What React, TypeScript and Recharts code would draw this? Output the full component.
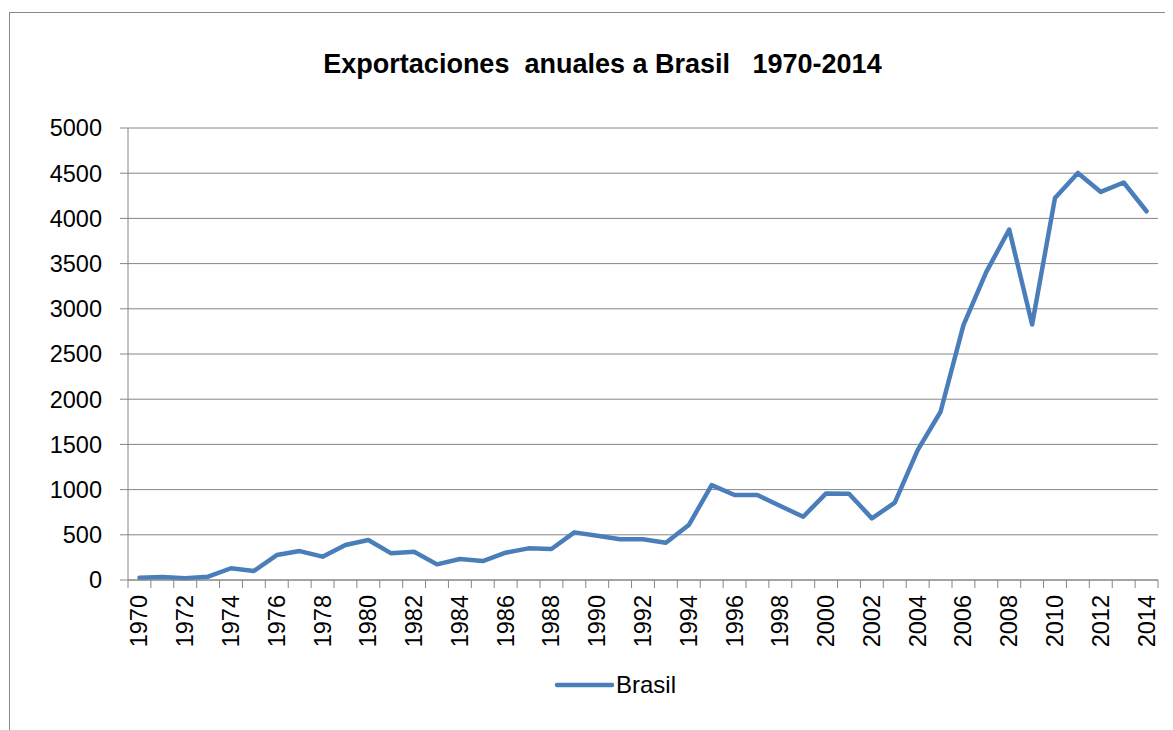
import React from "react";
import { LineChart, Line, XAxis, YAxis, CartesianGrid, Legend } from "recharts";

const years: string[] = [
  "1970", "1971", "1972", "1973", "1974", "1975", "1976", "1977", "1978", "1979",
  "1980", "1981", "1982", "1983", "1984", "1985", "1986", "1987", "1988", "1989",
  "1990", "1991", "1992", "1993", "1994", "1995", "1996", "1997", "1998", "1999",
  "2000", "2001", "2002", "2003", "2004", "2005", "2006", "2007", "2008", "2009",
  "2010", "2011", "2012", "2013", "2014",
];

const brasil: number[] = [
  25, 33, 20, 37, 130, 100, 276, 320, 258, 387,
  442, 295, 313, 173, 232, 210, 302, 350, 343, 527,
  490, 450, 450, 413, 608, 1050, 940, 940, 818, 700,
  958, 955, 682, 855, 1437, 1861, 2819, 3408, 3877, 2826,
  4226, 4503, 4293, 4397, 4079,
];

const yTicks: number[] = [0, 500, 1000, 1500, 2000, 2500, 3000, 3500, 4000, 4500, 5000];

const seriesName = "Brasil";
const title = "Exportaciones  anuales a Brasil   1970-2014";

const data = years.map((y, i) => ({ year: y, Brasil: brasil[i] }));

const FONT = '"Liberation Sans", Arial, sans-serif';
const GRID = "#868686";
const BLUE = "#4A7EBB";
const HALF_BAND = 1030 / 45 / 2;

const XTick = (props: any) => {
  const { x, y, payload, index } = props;
  const i = payload && typeof payload.index === "number" ? payload.index : index;
  const last = i === years.length - 1;
  return (
    <g>
      <line x1={x - HALF_BAND} x2={x - HALF_BAND} y1={y} y2={y + 8} stroke={GRID} strokeWidth={1} />
      {last && (
        <line x1={x + HALF_BAND} x2={x + HALF_BAND} y1={y} y2={y + 8} stroke={GRID} strokeWidth={1} />
      )}
      {i % 2 === 0 && (
        <text
          x={x}
          y={y + 15}
          transform={`rotate(-90, ${x}, ${y + 15})`}
          textAnchor="end"
          dominantBaseline="central"
          fontSize={23.5}
          fontFamily={FONT}
          fill="#000"
        >
          {payload.value}
        </text>
      )}
    </g>
  );
};

const LegendContent = () => (
  <svg width={200} height={40} style={{ display: "block" }}>
    <line x1={9} x2={64} y1={17} y2={17} stroke={BLUE} strokeWidth={4.5} strokeLinecap="round" />
    <text x={68} y={25} fontSize={24} fontFamily={FONT} fill="#000">
      {seriesName}
    </text>
  </svg>
);

export default function App() {
  return (
    <div style={{ position: "relative", width: 1165, height: 722, overflow: "hidden", background: "#fff" }}>
      <div
        style={{
          position: "absolute",
          left: 1,
          top: 4,
          width: 1300,
          height: 900,
          border: "1px solid #888",
          boxSizing: "border-box",
        }}
      />
      <div
        style={{
          position: "absolute",
          left: 12,
          top: 43,
          width: 1165,
          textAlign: "center",
          fontFamily: FONT,
          fontWeight: "bold",
          fontSize: 27,
          lineHeight: "27px",
          whiteSpace: "pre",
          color: "#000",
        }}
      >
        {title}
      </div>
      <div style={{ position: "absolute", left: 0, top: 0 }}>
        <LineChart
          width={1165}
          height={722}
          data={data}
          margin={{ top: 120, right: 15, left: 0, bottom: 0 }}
        >
          <CartesianGrid horizontal={true} vertical={false} stroke={GRID} strokeWidth={1} />
          <XAxis
            dataKey="year"
            type="category"
            interval={0}
            height={150}
            padding={{ left: HALF_BAND, right: HALF_BAND }}
            axisLine={{ stroke: GRID, strokeWidth: 1 }}
            tickLine={false}
            tickSize={0}
            tickMargin={0}
            tick={<XTick />}
          />
          <YAxis
            width={120}
            domain={[0, 5000]}
            ticks={yTicks}
            interval={0}
            axisLine={{ stroke: GRID, strokeWidth: 1 }}
            tickLine={{ stroke: GRID, strokeWidth: 1 }}
            tickSize={8}
            tickMargin={18}
            tick={{ fontSize: 23.5, fontFamily: FONT, fill: "#000" }}
          />
          <Legend
            layout="vertical"
            align="center"
            verticalAlign="middle"
            content={<LegendContent />}
            wrapperStyle={{ position: "absolute", left: 540, top: 660, width: 200, height: 40 }}
          />
          <Line
            type="linear"
            dataKey="Brasil"
            name={seriesName}
            stroke={BLUE}
            strokeWidth={4.5}
            strokeLinejoin="round"
            strokeLinecap="round"
            dot={false}
            activeDot={false}
            isAnimationActive={false}
          />
        </LineChart>
      </div>
    </div>
  );
}
